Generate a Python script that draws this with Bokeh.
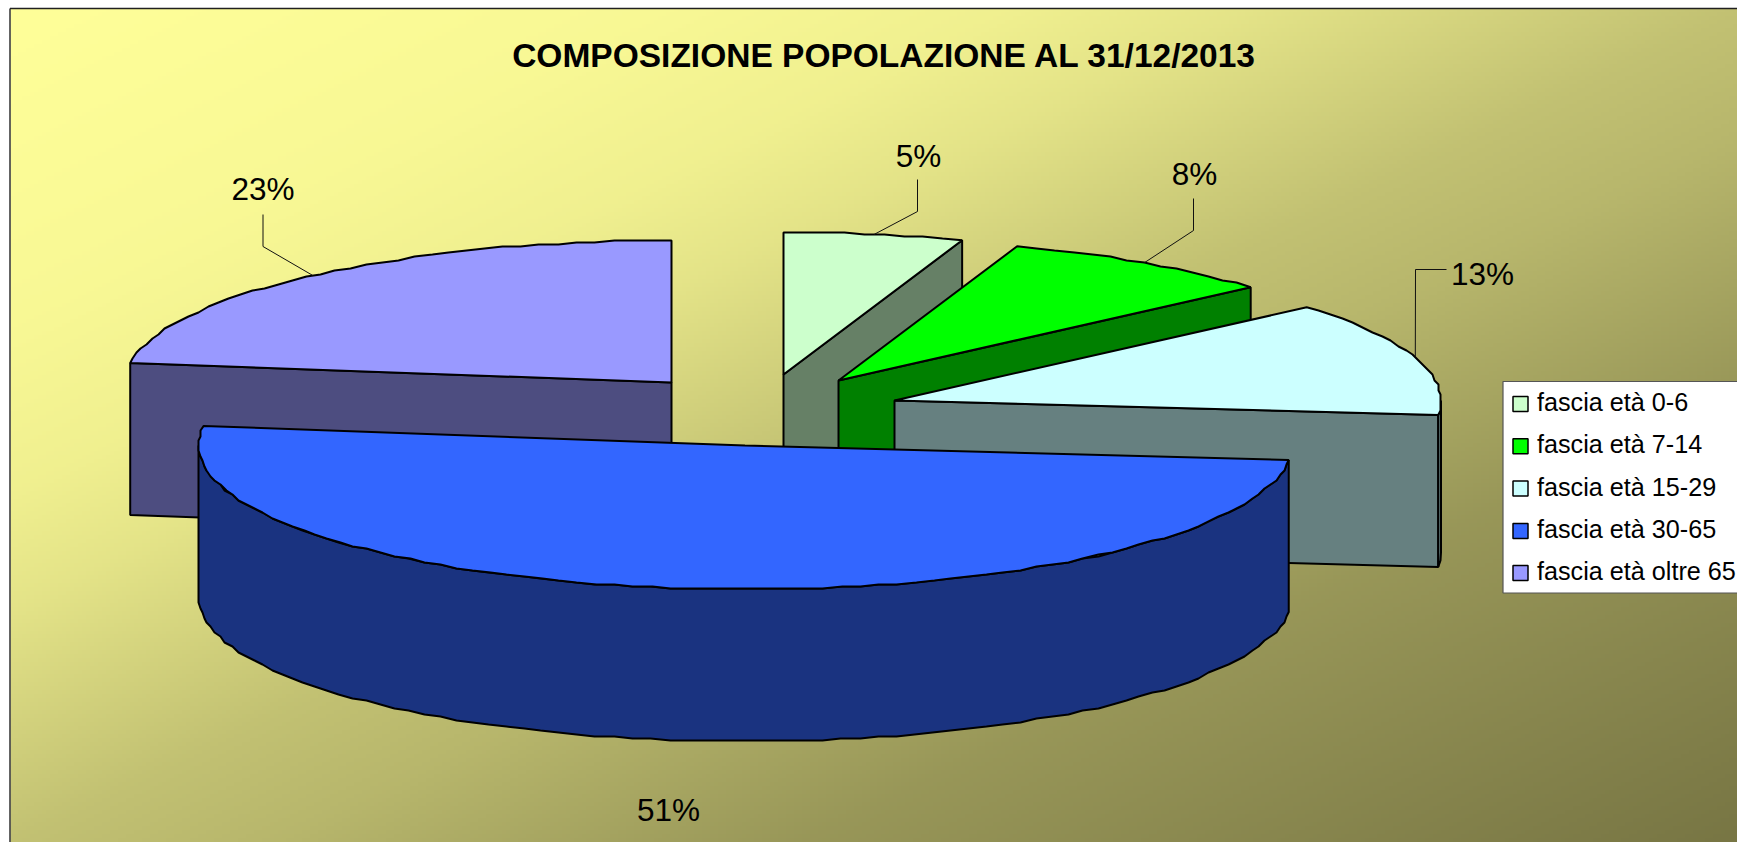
import numpy as np
from bokeh.plotting import figure
from bokeh.models import Range1d
from bokeh.core.properties import value
from bokeh.embed import file_html
from bokeh.resources import INLINE

# ---- data ----
title = "COMPOSIZIONE POPOLAZIONE AL 31/12/2013"
categories = ["fascia età 0-6", "fascia età 7-14", "fascia età 15-29", "fascia età 30-65", "fascia età oltre 65"]
shares = [5.3, 8.3, 13.0, 50.6, 22.8]
top_colors = ["#CCFFCC", "#00FF00", "#CCFFFF", "#3366FF", "#9999FF"]
side_colors = ["#668066", "#008000", "#668080", "#1A3380", "#4D4D80"]

# ---- layout (screen pixels of the page) ----
W, H = 1737, 842
OX, OY = 0, 0
A, B_FRONT, B_BACK, DEPTH = 546.5, 144, 142, 152
apex = {0: (783, 374), 1: (838, 380), 2: (894, 400), 3: (744.5, 445), 4: (671, 382)}
label_pos = {0: (918, 155), 1: (1194, 173), 2: (1482, 273), 3: (668, 809), 4: (262.5, 188)}
leader_elbows = {
    0: [(917, 179), (917, 211)],
    1: [(1193, 198), (1193, 230)],
    2: [(1446, 269), (1415, 269)],
    4: [(262.5, 214), (262.5, 246)],
}
draw_order = [0, 1, 2, 4, 3]

p = figure(width=W, height=H, output_backend="svg", toolbar_location=None,
           x_range=Range1d(OX, OX + W), y_range=Range1d(OY + H, OY),
           min_border=0, outline_line_color=None)
p.axis.visible = False
p.grid.visible = False
p.background_fill_color = "white"
p.border_fill_color = "white"

# background gradient
FX, FY = 10, 8
nx, ny = 432, 209
gx, gy = np.meshgrid(np.linspace(0, 1, nx), np.linspace(0, 1, ny))
u = (gx + gy) / 2
t = np.interp(u, [0, .19, .29, .36, .5, .577, .73, 1], [0, .05, .11, .2, .45, .53, .76, 1])
c0 = np.array([255, 255, 153]); c1 = np.array([120, 118, 68])
img = np.zeros((ny, nx), dtype=np.uint32)
view = img.view(dtype=np.uint8).reshape((ny, nx, 4))
for k in range(3):
    view[:, :, k] = (c0[k] + (c1[k] - c0[k]) * t).astype(np.uint8)
view[:, :, 3] = 255
p.image_rgba(image=[img], x=FX, y=FY, dw=OX + W - FX, dh=OY + H - FY, dw_units="data", dh_units="data")
p.line([9.5, 9.5], [OY + H, FY], line_color="#303030", line_width=1.5)
p.line([9.5, OX + W], [FY, FY], line_color="#202020", line_width=1.5)

# pie
frac = np.cumsum([0] + shares) / sum(shares) * 360.0
LW = 2

def rim(i, th):
    r = np.radians(th)
    c = np.cos(r)
    return apex[i][0] + A * np.sin(r), apex[i][1] - np.where(c > 0, B_BACK, B_FRONT) * c

def arc(i, a0, a1):
    n = max(2, int(abs(a1 - a0) / 2) + 1)
    ths = np.linspace(a0, a1, n)
    x, y = rim(i, ths)
    x[1:-1] = np.round(x[1:-1] / 2) * 2
    y[1:-1] = np.round(y[1:-1] / 2) * 2
    return x, y

for i in draw_order:
    a0, a1 = frac[i], frac[i + 1]
    cx, cy = apex[i]
    st, sd = top_colors[i], side_colors[i]
    # cut faces
    if np.sin(np.radians(a0)) < 0:
        rx, ry = rim(i, a0)
        p.patch([cx, rx, rx, cx], [cy, ry, ry + DEPTH, cy + DEPTH], fill_color=sd, line_color="black", line_width=LW)
    if np.sin(np.radians(a1)) > 0:
        rx, ry = rim(i, a1)
        p.patch([cx, rx, rx, cx], [cy, ry, ry + DEPTH, cy + DEPTH], fill_color=sd, line_color="black", line_width=LW)
    # outer wall
    lo, hi = max(a0, 90), min(a1, 270)
    if hi > lo:
        xs, ys = arc(i, lo, hi)
        p.patch(np.r_[xs, xs[::-1]], np.r_[ys, ys[::-1] + DEPTH], fill_color=sd, line_color="black", line_width=LW)
    # top
    xs, ys = arc(i, a0, a1)
    p.patch(np.r_[cx, xs], np.r_[cy, ys], fill_color=st, line_color="black", line_width=LW)

# leaders + labels
for i, v in enumerate(shares):
    if i in leader_elbows:
        mx, my = rim(i, (frac[i] + frac[i + 1]) / 2)
        pts = leader_elbows[i] + [(float(mx), float(my))]
        p.line([q[0] for q in pts], [q[1] for q in pts], line_color="#111111", line_width=1)
    lx, ly = label_pos[i]
    p.text([lx], [ly], text=[f"{round(v)}%"], text_font=value("Liberation Sans"), text_font_size="31.5px",
           text_color="black", text_align="center", text_baseline="middle")

p.text([884], [54.5], text=[title], text_font=value("Liberation Sans"), text_font_style="bold",
       text_font_size="33.5px", text_color="black", text_align="center", text_baseline="middle")

# legend
LX0, LY0, LY1 = 1502.5, 381, 592.5
p.quad(left=[LX0], right=[OX + W + 20], top=[LY0], bottom=[LY1], fill_color="white", line_color="#555555", line_width=1.2)
row_y = [403.5, 445.8, 488, 530.5, 572.6]
for c, col, y in zip(categories, top_colors, row_y):
    p.quad(left=[1512.5], right=[1527.5], top=[y - 7.5], bottom=[y + 7.5], fill_color=col, line_color="black", line_width=1.5)
    p.text([1536.5], [y - 2], text=[c], text_font=value("Liberation Sans"), text_font_size="25.2px",
           text_color="black", text_align="left", text_baseline="middle")

html = file_html(p, INLINE)
open("out.html", "w").write(html)
